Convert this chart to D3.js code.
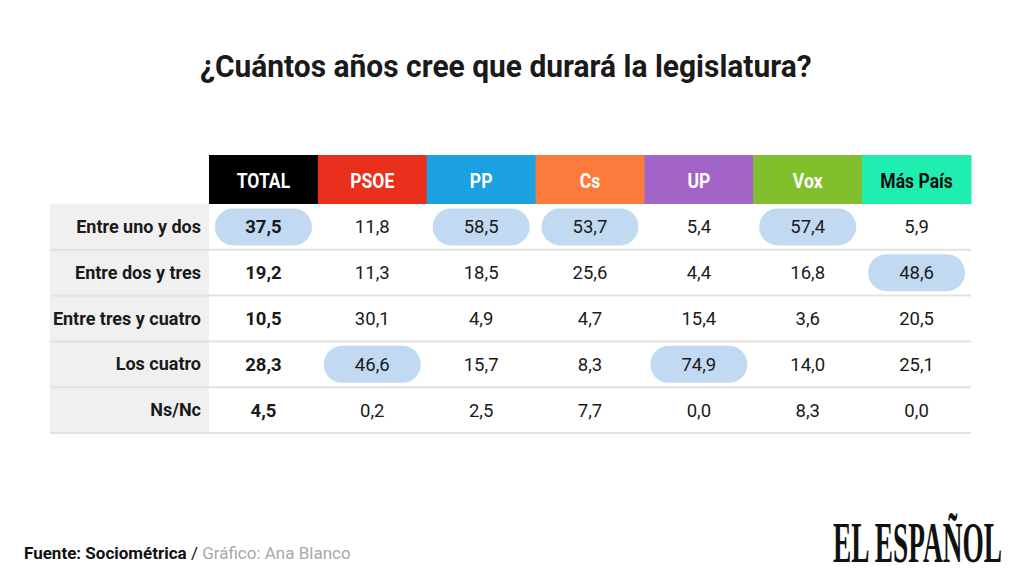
<!DOCTYPE html>
<html><head><meta charset="utf-8">
<script src="https://cdn.jsdelivr.net/npm/d3@7"></script>
<style>body{margin:0;background:#fff}svg{display:block}</style>
</head><body>
<svg id="c" width="1024" height="576"></svg>
<script>
const title = "¿Cuántos años cree que durará la legislatura?";
const columns = ["TOTAL","PSOE","PP","Cs","UP","Vox","Más País"];
const columnColors = ["#000000","#e8301c","#1ba0e1","#fb7b3d","#a264c6","#82bf2d","#20eeb0"];
const columnTextColors = ["#ffffff","#ffffff","#ffffff","#ffffff","#ffffff","#ffffff","#111111"];
const rows = ["Entre uno y dos","Entre dos y tres","Entre tres y cuatro","Los cuatro","Ns/Nc"];
const TOTAL   = [37.5,19.2,10.5,28.3,4.5];
const PSOE    = [11.8,11.3,30.1,46.6,0.2];
const PP      = [58.5,18.5,4.9,15.7,2.5];
const Cs      = [53.7,25.6,4.7,8.3,7.7];
const UP      = [5.4,4.4,15.4,74.9,0.0];
const Vox     = [57.4,16.8,3.6,14.0,8.3];
const MasPais = [5.9,48.6,20.5,25.1,0.0];
const series = [TOTAL,PSOE,PP,Cs,UP,Vox,MasPais];

const svg = d3.select("#c");
const fmt = v => v.toFixed(1).replace(".", ",");

const x = d3.scaleBand().domain(columns).range([209, 971]);
const y = d3.scaleBand().domain(rows).range([204, 433]);
const labelX0 = 50;

// fit a text horizontally into [x0, x0+w] with a scale transform
function fitText(sel, x0, w) {
  const nat = sel.node().getComputedTextLength();
  const k = w / nat;
  sel.attr("x", 0).attr("text-anchor","start")
     .attr("transform", `translate(${x0},0) scale(${k},1)`);
}

// title
const t = svg.append("text").attr("y", 77)
  .attr("font-family","Roboto").attr("font-weight",700).attr("font-size",31)
  .attr("fill","#1a1a1a").text(title);
fitText(t, 200, 612);

// label column background
svg.append("rect").attr("x",labelX0).attr("y",y.range()[0]).attr("width",x.range()[0]-labelX0)
  .attr("height",y.range()[1]-y.range()[0]).attr("fill","#f0f0f0");

// header
const hdr = svg.append("g");
hdr.selectAll("rect").data(columns).join("rect")
  .attr("x", d => x(d)).attr("y",155).attr("width", x.bandwidth()+0.5).attr("height",49)
  .attr("fill",(d,i)=>columnColors[i]);
hdr.selectAll("text").data(columns).join("text")
  .attr("x", d => x(d)+x.bandwidth()/2).attr("y",188).attr("text-anchor","middle")
  .attr("font-family","Roboto").attr("font-weight",700).attr("font-size",19.5)
  .attr("fill",(d,i)=>columnTextColors[i])
  .attr("transform", d => { const cx = x(d)+x.bandwidth()/2; return `translate(${cx},0) scale(0.9,1) translate(${-cx},0)`; })
  .text(d=>d);

// separators
svg.selectAll("line.sep").data(rows).join("line").attr("class","sep")
  .attr("x1",labelX0).attr("x2",971)
  .attr("y1", d => y(d)+y.bandwidth()).attr("y2", d => y(d)+y.bandwidth())
  .attr("stroke","#e2e2e2").attr("stroke-width",2);

// row labels
svg.selectAll("text.rl").data(rows).join("text").attr("class","rl")
  .attr("x",201).attr("y", d => y(d)+y.bandwidth()/2+6).attr("text-anchor","end")
  .attr("font-family","Roboto").attr("font-weight",700).attr("font-size",18).attr("fill","#1a1a1a")
  .text(d=>d);

// cells
const cells = [];
series.forEach((vals, ci) => {
  const mx = d3.max(vals);
  vals.forEach((v, ri) => cells.push({col: columns[ci], ci, row: rows[ri], v, hi: v === mx}));
});
const pw = 97, ph = 37;
svg.selectAll("rect.pill").data(cells.filter(c=>c.hi)).join("rect").attr("class","pill")
  .attr("x", d => x(d.col)+x.bandwidth()/2-pw/2).attr("y", d => y(d.row)+y.bandwidth()/2-ph/2)
  .attr("width",pw).attr("height",ph).attr("rx",18.5).attr("fill","#c1d9f1");
svg.selectAll("text.val").data(cells).join("text").attr("class","val")
  .attr("x", d => x(d.col)+x.bandwidth()/2).attr("y", d => y(d.row)+y.bandwidth()/2+6.5)
  .attr("text-anchor","middle").attr("font-family","Roboto")
  .attr("font-weight", d => d.ci===0 ? 700 : 400).attr("font-size",18.5).attr("fill","#1a1a1a")
  .text(d => fmt(d.v));

// footer
const ft = svg.append("text").attr("x",24).attr("y",559).attr("font-family","Roboto").attr("font-size",17);
ft.append("tspan").attr("font-weight",700).attr("fill","#111").text("Fuente: Sociométrica");
ft.append("tspan").attr("fill","#111").text(" / ");
ft.append("tspan").attr("fill","#a8a8a8").text("Gráfico: Ana Blanco");

const logo = svg.append("text").attr("y",562).attr("font-family","Liberation Serif").attr("font-weight",700)
  .attr("font-size",56).attr("fill","#111").text("EL ESPAÑOL");
fitText(logo, 833, 169);
</script>
</body></html>
